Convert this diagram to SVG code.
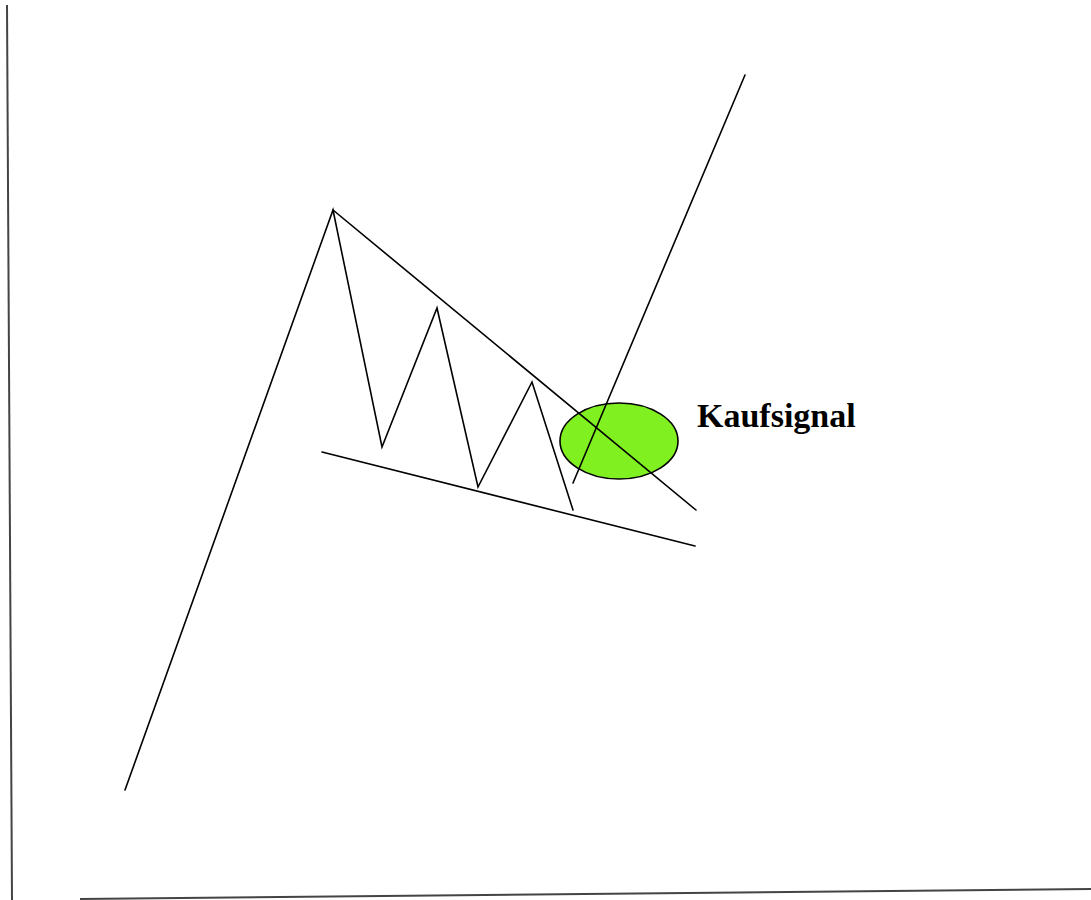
<svg xmlns="http://www.w3.org/2000/svg" width="1091" height="900" viewBox="0 0 1091 900">
<style>
.ln{fill:none;stroke:#000;stroke-width:1.6;stroke-linecap:round;stroke-linejoin:miter}
.frame{fill:none;stroke:#444;stroke-width:2}
.lbl{font-family:"Liberation Serif",serif;font-weight:bold;font-size:34px;fill:#000}
</style>
<rect width="1091" height="900" fill="#fff"/>
<g id="frame">
<line class="frame" x1="7" y1="5" x2="12" y2="900"/>
<line class="frame" x1="80" y1="899" x2="1091" y2="889"/>
</g>
<g id="connectors">
<polyline class="ln" points="125,790 333,210 382,447 437,308 478,487 532,382 573,510"/>
<line class="ln" x1="322" y1="452" x2="695" y2="546"/>
</g>
<g id="signal">
<ellipse cx="619" cy="441" rx="59" ry="38" fill="#80f020" stroke="#000" stroke-width="1.6"/>
</g>
<g id="overlay">
<line class="ln" x1="333" y1="210" x2="696" y2="510"/>
<line class="ln" x1="573" y1="483" x2="745" y2="75"/>
</g>
<g id="label">
<text class="lbl" x="697" y="427">Kaufsignal</text>
</g>
</svg>
